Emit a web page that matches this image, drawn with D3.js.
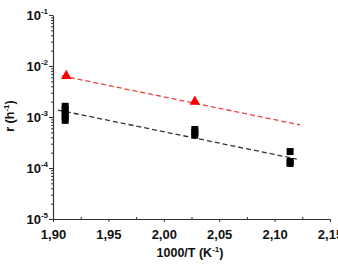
<!DOCTYPE html>
<html>
<head>
<meta charset="utf-8">
<script src="https://cdn.jsdelivr.net/npm/d3@7"></script>
<style>
  body { margin: 0; background: #fff; }
  svg { display: block; }
  svg text { font-family: "Liberation Sans", Arial, sans-serif; font-weight: bold; }
</style>
</head>
<body>
<svg width="338" height="268"></svg>
<script>
// measured points
const redT = [1.912, 2.028];
const redR = [6.4e-3, 2.0e-3];
const blackT = [1.911, 1.911, 1.911, 1.911, 1.911, 2.028, 2.028, 2.028, 2.114, 2.114, 2.114];
const blackR = [1.62e-3, 1.38e-3, 1.15e-3, 1.0e-3, 8.6e-4, 5.7e-4, 5.0e-4, 4.4e-4, 2.1e-4, 1.34e-4, 1.23e-4];

// fitted dashed lines (end points)
const fitRedT = [1.908, 2.123];
const fitRedR = [6.4e-3, 7.0e-4];
const fitBlackT = [1.9045, 2.120];
const fitBlackR = [1.37e-3, 1.5e-4];

const xMajor = [1.90, 1.95, 2.00, 2.05, 2.10, 2.15];
const yMajorExp = [-5, -4, -3, -2, -1];

const svg = d3.select("svg");
const x = d3.scaleLinear().domain([1.90, 2.15]).range([53, 330]);
const y = d3.scaleLog().domain([1e-5, 1e-1]).range([219, 15]);

// y axis: minor ticks
const yMinor = [];
for (let e = -5; e < -1; e++) {
    for (let m = 2; m <= 9; m++) yMinor.push(m * Math.pow(10, e));
}
svg.append("g")
    .attr("transform", "translate(53,0)")
    .call(d3.axisLeft(y).tickValues(yMinor).tickSize(2).tickFormat(""))
    .call(g => g.select(".domain").remove())
    .selectAll("line").attr("stroke", "#333");

const yAx = svg.append("g")
    .attr("transform", "translate(53,0)")
    .call(d3.axisLeft(y).tickValues(yMajorExp.map(e => Math.pow(10, e))).tickSize(4).tickSizeOuter(0).tickFormat(""));
yAx.select(".domain").attr("stroke", "#333").attr("stroke-width", 1.2);
yAx.selectAll("line").attr("stroke", "#333");

const yLab = svg.append("g").selectAll("text")
    .data(yMajorExp)
    .enter().append("text")
    .attr("x", 48)
    .attr("y", d => y(Math.pow(10, d)) + 5)
    .attr("text-anchor", "end")
    .attr("font-size", 13)
    .attr("fill", "#111");
yLab.append("tspan").text("10");
yLab.append("tspan").attr("font-size", 8).attr("dy", -6).text(d => "-" + (-d));

// x axis
const xMinor = d3.range(5).map(i => 1.925 + i * 0.05);
svg.append("g")
    .attr("transform", "translate(0,219)")
    .call(d3.axisBottom(x).tickValues(xMinor).tickSize(-2).tickFormat(""))
    .call(g => g.select(".domain").remove())
    .selectAll("line").attr("stroke", "#333");

const xAx = svg.append("g")
    .attr("transform", "translate(0,219)")
    .call(d3.axisBottom(x).tickValues(xMajor).tickSize(3).tickSizeOuter(0)
        .tickFormat(d => d3.format(".2f")(d).replace(".", ",")));
xAx.select(".domain").attr("stroke", "#333").attr("stroke-width", 1.2);
xAx.selectAll("line").attr("stroke", "#333");
xAx.selectAll("text")
    .attr("font-size", 13)
    .attr("fill", "#111")
    .attr("dy", "1.1em");

// axis titles
const xt = svg.append("text")
    .attr("x", 190).attr("y", 257)
    .attr("text-anchor", "middle")
    .attr("font-size", 12.5)
    .attr("fill", "#111");
xt.append("tspan").text("1000/T (K");
xt.append("tspan").attr("font-size", 8).attr("dy", -5).text("-1");
xt.append("tspan").attr("dy", 5).text(")");

const yt = svg.append("text")
    .attr("transform", "translate(14,116) rotate(-90)")
    .attr("text-anchor", "middle")
    .attr("font-size", 12.5)
    .attr("fill", "#111");
yt.append("tspan").text("r (h");
yt.append("tspan").attr("font-size", 8).attr("dy", -5).text("-1");
yt.append("tspan").attr("dy", 5).text(")");

// dashed fits
const line = d3.line().x(d => x(d[0])).y(d => y(d[1]));
svg.append("path")
    .attr("d", line(d3.zip(fitRedT, fitRedR)))
    .attr("fill", "none")
    .attr("stroke", "#e8453c")
    .attr("stroke-width", 1.3)
    .attr("stroke-dasharray", "5,3");
svg.append("path")
    .attr("d", line(d3.zip(fitBlackT, fitBlackR)))
    .attr("fill", "none")
    .attr("stroke", "#333")
    .attr("stroke-width", 1.3)
    .attr("stroke-dasharray", "5,3");

// markers
svg.append("g").selectAll("path")
    .data(d3.zip(blackT, blackR))
    .enter().append("path")
    .attr("d", d3.symbol(d3.symbolSquare, 49))
    .attr("transform", d => `translate(${x(d[0])},${y(d[1])})`)
    .attr("fill", "#000");

svg.append("g").selectAll("path")
    .data(d3.zip(redT, redR))
    .enter().append("path")
    .attr("d", d3.symbol(d3.symbolTriangle, 48))
    .attr("transform", d => `translate(${x(d[0])},${y(d[1])})`)
    .attr("fill", "#ff0000");
</script>
</body>
</html>
